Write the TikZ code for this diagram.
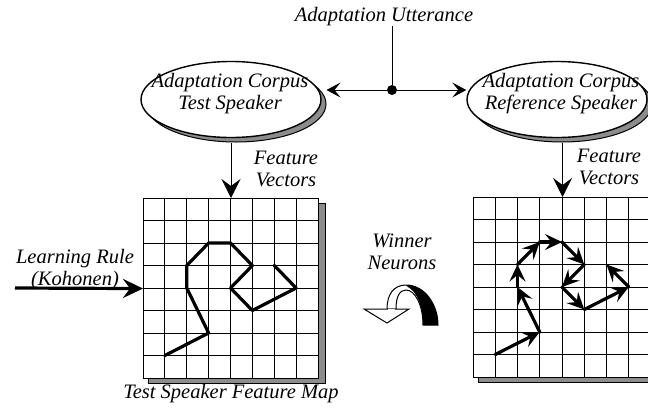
\documentclass[tikz,border=0pt]{standalone}
\usepackage{fontspec}
\setmainfont{Liberation Serif}
\usetikzlibrary{arrows.meta,calc,shapes.geometric}

\begin{document}
\begin{tikzpicture}[x=1pt,y=-1pt,
  lbl/.style={font=\itshape\fontsize{20.5}{22}\selectfont, inner sep=0pt, align=center},
  corpus/.style={ellipse, draw=black, line width=1.4pt, fill=white, inner sep=0pt,
    minimum width=180pt, minimum height=76pt},
  corpusshadow/.style={ellipse, draw=black, line width=1pt, fill=black!45, inner sep=0pt,
    minimum width=180pt, minimum height=76pt},
  mapbox/.style={rectangle, draw=black, line width=1.1pt, fill=white, inner sep=0pt,
    anchor=north west, minimum height=180pt},
  mapshadow/.style={draw=black, line width=0.7pt, fill=black!45},
  gridline/.style={line width=1pt},
  route/.style={line width=3.2pt, line join=round, line cap=round},
  routearrow/.style={line width=3.2pt, line cap=round,
    -{Stealth[length=17pt,width=16pt,inset=6.5pt]}},
  feed/.style={line width=1pt, -{Stealth[length=19pt,width=19pt,inset=7pt]}},
  pair/.style={line width=1pt, -{Stealth[length=14pt,width=15pt,inset=6pt]}},
  rulearrow/.style={line width=3.2pt, -{Stealth[length=20pt,width=19pt,inset=7pt]}}
]
\useasboundingbox (0,0) rectangle (648,410);
\clip (0,0) rectangle (648,410);

% --- corpora ---------------------------------------------------------
\node[corpusshadow] (lsh) at (236,104) {};
\node[corpus] (lell) at (231,99.5) {};
\node[lbl] (ltxt) at (230,94) {Adaptation Corpus\\Test Speaker};

\node[corpusshadow] (rsh) at (562,104) {};
\node[corpus] (rell) at (557,99.5) {};
\node[lbl] (rtxt) at (561,94) {Adaptation Corpus\\Reference Speaker};

% --- utterance split --------------------------------------------------
\node[lbl] (utt) at (384,17) {Adaptation Utterance};
\node[circle, fill=black, inner sep=0pt, minimum size=10pt] (dot) at (392,90) {};
\draw[line width=1pt] (dot) -- (dot |- utt.south);
\draw[pair] (dot) -- (dot -| lsh.east);
\draw[pair] (dot) -- (dot -| rell.west);

% --- test speaker feature map -----------------------------------------
\fill[mapshadow] (148,203) rectangle (325,383);
\node[mapbox, minimum width=175pt] (lmap) at (143,198) {};
\begin{scope}[shift={(143,198)}, x=21.875pt, y=-22.5pt]
  \foreach \k in {1,...,7} {
    \draw[gridline] (\k,0) -- (\k,8);
    \draw[gridline] (0,\k) -- (8,\k);
  }
  \draw[route] (1,7) -- (3,6) -- (2,4) -- (2,3) -- (3,2) -- (4,2)
    -- (5,3) -- (4,4) -- (5,5) -- (7,4) -- (6,3);
\end{scope}

% --- reference speaker feature map ------------------------------------
\fill[mapshadow] (478,377) rectangle (660,382);
\node[mapbox, minimum width=178pt] (rmap) at (473,197) {};
\begin{scope}[shift={(473,197)}, x=22.25pt, y=-22.5pt]
  \foreach \k in {1,...,7} {
    \draw[gridline] (\k,0) -- (\k,8);
    \draw[gridline] (0,\k) -- (8,\k);
  }
  \draw[routearrow] (1,7) -- (3,6);
  \draw[routearrow] (3,6) -- (2,4);
  \draw[routearrow] (2,4) -- (2,3);
  \draw[routearrow] (2,3) -- (3,2);
  \draw[routearrow] (3,2) -- (4,2);
  \draw[routearrow] (4,2) -- (5,3);
  \draw[routearrow] (5,3) -- (4,4);
  \draw[routearrow] (4,4) -- (5,5);
  \draw[routearrow] (5,5) -- (7,4);
  \draw[routearrow] (7,4) -- (6,3);
\end{scope}

% --- feature vectors --------------------------------------------------
\draw[feed] (lell |- lsh.south) -- (lell |- lmap.north);
\node[lbl] (lfv) at (286,169) {Feature\\Vectors};
\draw[feed] (rmap.north |- rsh.south) -- (rmap.north);
\node[lbl] (rfv) at (609,167) {Feature\\Vectors};

% --- learning rule ----------------------------------------------------
\node[lbl] (rule) at (75,270) {Learning Rule\\(Kohonen)};
\coordinate (rulestart) at (15,288);
\draw[rulearrow] (rulestart) -- (lmap.west);

% --- winner neurons ---------------------------------------------------
\node[lbl] (win) at (402,252) {Winner\\Neurons};
\draw[line width=1pt, fill=white]
  (387,309) .. controls (387,294) and (394,285) .. (406,285)
  .. controls (425,285) and (438,305) .. (438,325) -- (423,325)
  .. controls (423,305) and (415,290) .. (406,290)
  .. controls (400,290) and (396,296) .. (396,309) -- cycle;
\fill[black]
  (406,285) .. controls (425,285) and (438,305) .. (438,325) -- (423,325)
  .. controls (423,306) and (417,292) .. (408,287) -- cycle;
\draw[line width=1pt, fill=white, line join=miter]
  (364,309) -- (409,309) -- (387,323) -- cycle;
\draw[line width=1pt, white] (388,309) -- (395,309);

% --- caption ----------------------------------------------------------
\node[lbl] (cap) at (231,394) {Test Speaker Feature Map};
\end{tikzpicture}
\end{document}
